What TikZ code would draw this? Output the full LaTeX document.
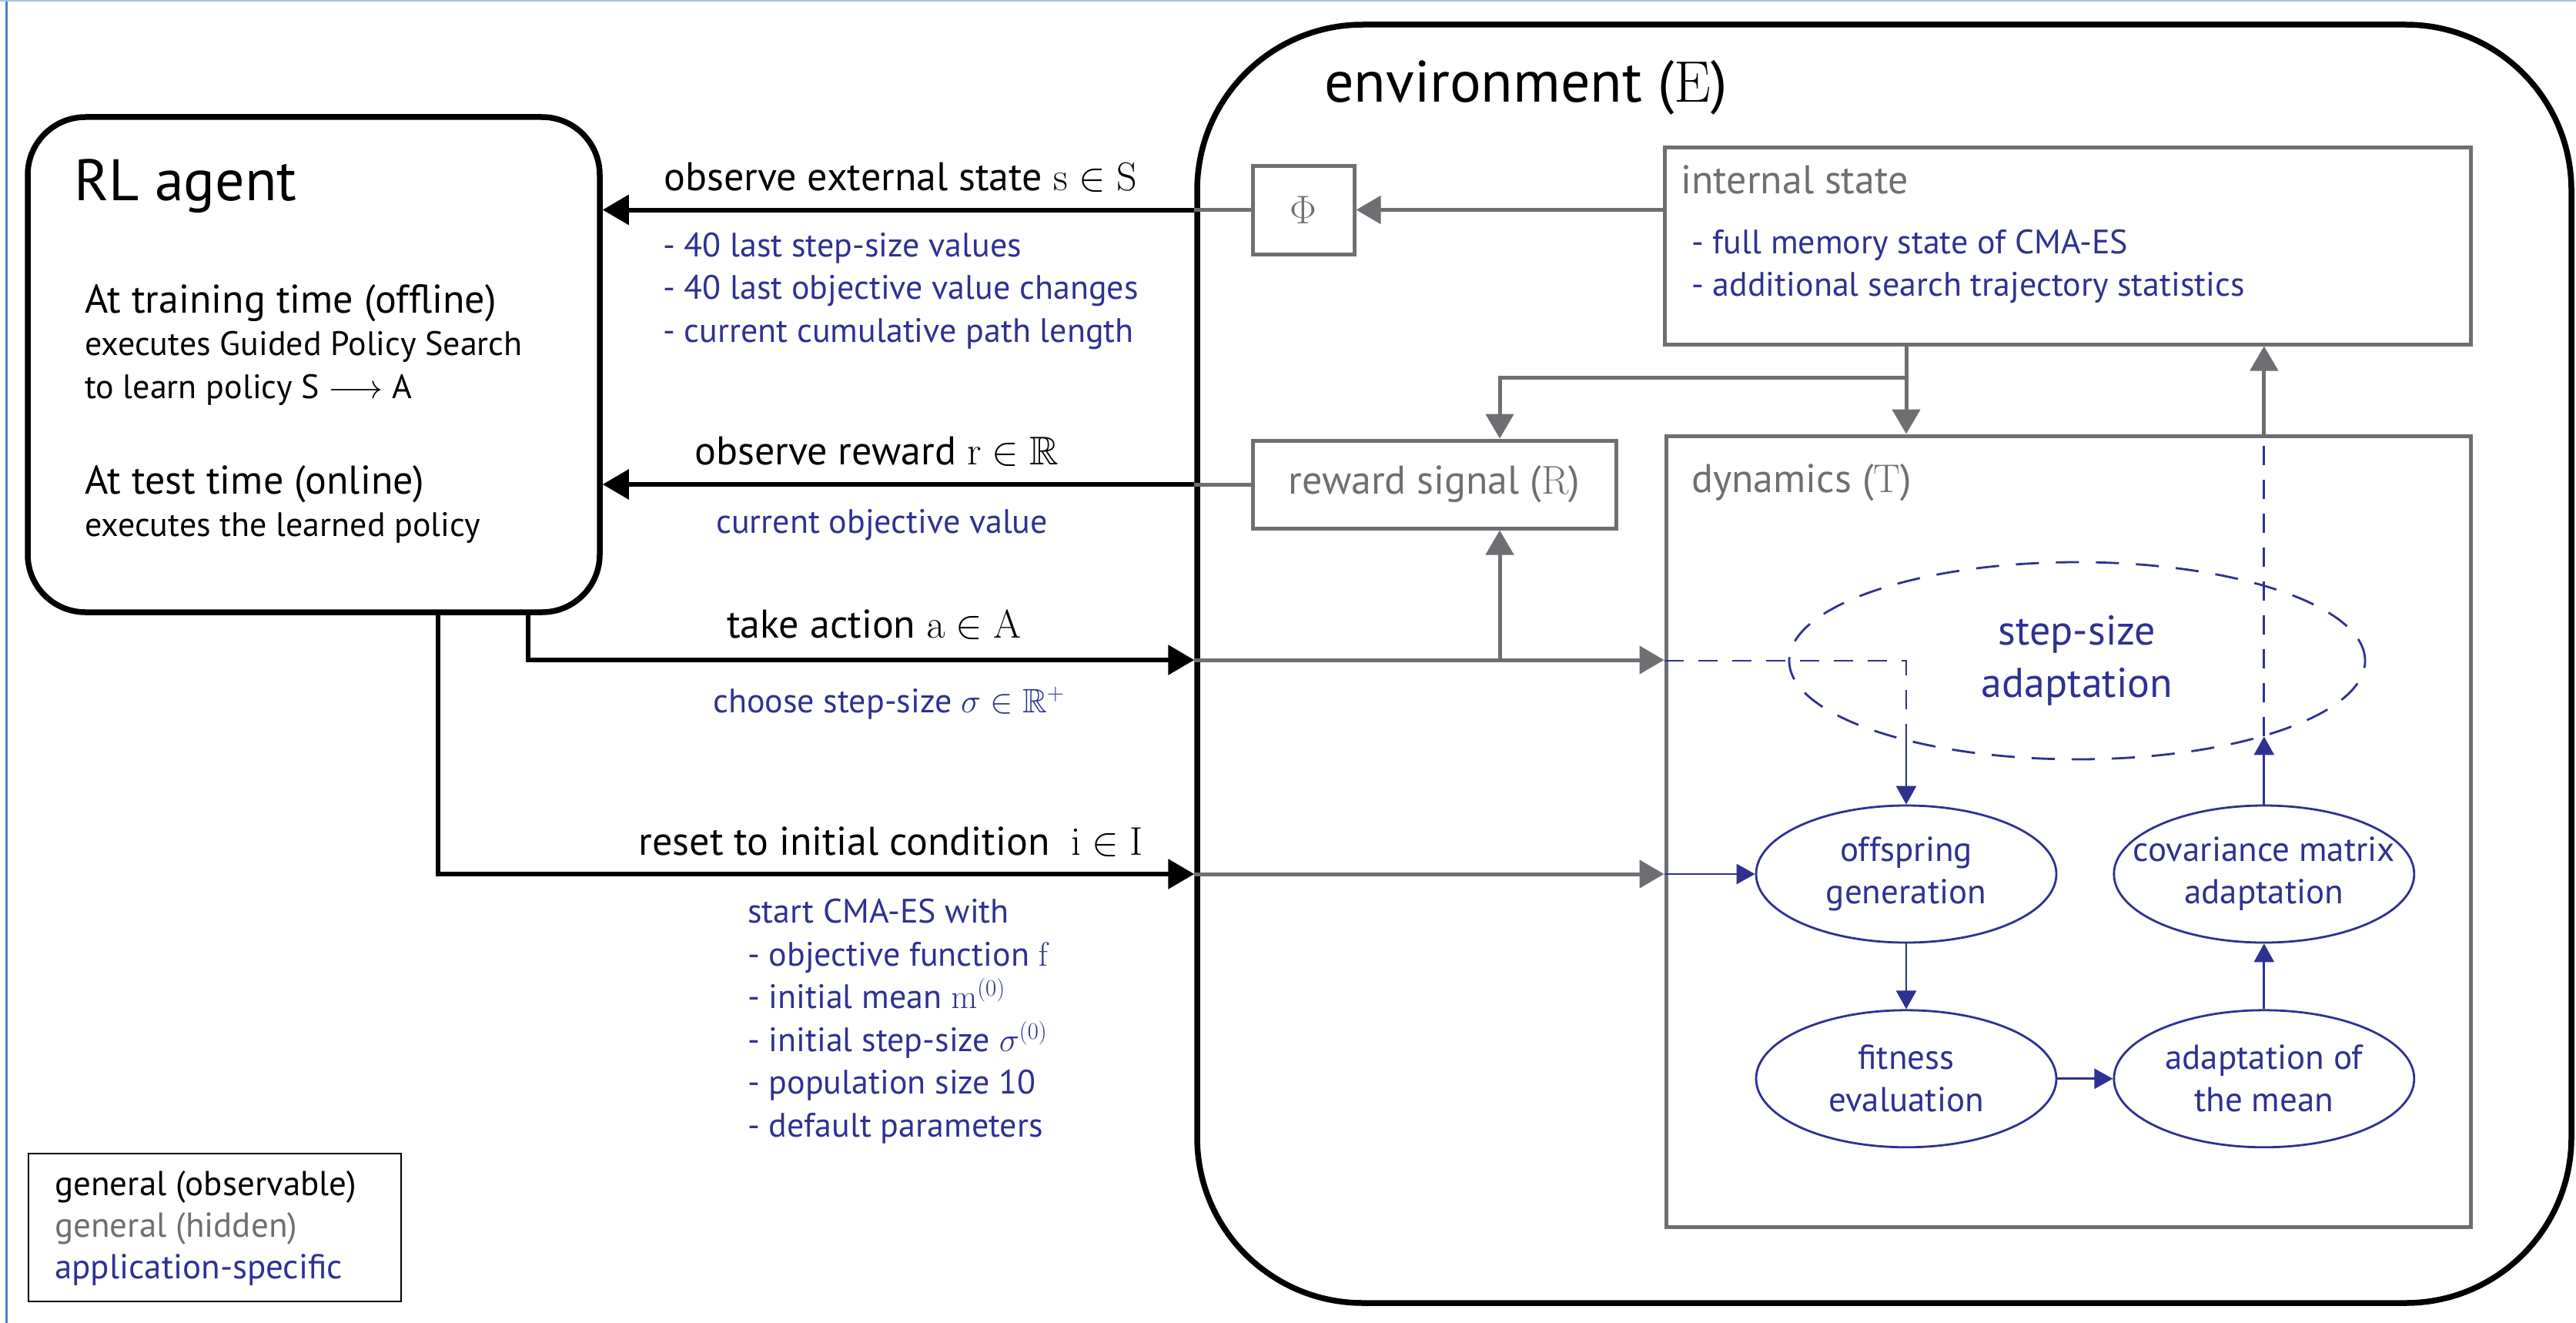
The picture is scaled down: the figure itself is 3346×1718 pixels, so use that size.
\documentclass[tikz,border=0pt]{standalone}
\usepackage{fix-cm}
\usepackage{amsmath,amssymb}
\usepackage[no-math]{fontspec}
\setmainfont{PT Sans}
\usetikzlibrary{arrows.meta,positioning,shapes.geometric}

\definecolor{hidden}{RGB}{110,111,114}
\definecolor{appblue}{RGB}{46,49,146}
\definecolor{framecol}{RGB}{70,130,200}

\begin{document}
\begin{tikzpicture}[
  x=1pt, y=-1pt,
  node distance=85pt,
  big/.style={font=\fontsize{76}{90}\selectfont},
  lab/.style={font=\fontsize{52}{62}\selectfont},
  note/.style={font=\fontsize{44}{55.5}\selectfont, align=left},
  txt/.style={inner sep=0pt, anchor=base west},
  obsbox/.style={draw, rounded corners=75pt, line width=7.5pt},
  hidbox/.style={draw=hidden, line width=5pt, text=hidden},
  proc/.style={ellipse, draw=appblue, line width=2.8pt, text=appblue, align=center,
    inner xsep=-70pt, inner ysep=0pt, minimum width=390pt, minimum height=178pt,
    font=\fontsize{45}{55}\selectfont},
  blackarrow/.style={-{Triangle[length=34pt,width=38pt]}, line width=6pt},
  greyline/.style={draw=hidden, line width=5pt},
  greyarrow/.style={greyline, -{Triangle[length=32pt,width=36pt]}},
  bluearrow/.style={-{Triangle[length=24pt,width=26pt]}, line width=2.8pt, draw=appblue},
  bluedash/.style={line width=2.8pt, draw=appblue, dash pattern=on 25pt off 19pt}
]
\useasboundingbox (0,0) rectangle (3346,1718);
\draw[framecol, line width=3pt] (8,0) -- (8,1718);
\draw[framecol!50, line width=2pt] (0,1) -- (3346,1);

% agent
\node[obsbox, minimum width=743pt, minimum height=643pt] (agent) at (407.5,473.5) {};
\node[txt, big] (agenttitle) at (96,260) {RL agent};
\node[txt, lab] (train) at (110,406) {At training time (offline)};
\node[txt, note] (traininfo) at (110,517) {executes Guided Policy Search\\to learn policy S $\longrightarrow$ A};
\node[txt, lab] (test) at (110,641) {At test time (online)};
\node[txt, note] (testinfo) at (110,696) {executes the learned policy};

% environment
\node[obsbox, rounded corners=215pt, minimum width=1785pt, minimum height=1660pt] (env) at (2447.5,862) {};
\node[txt, big] (envtitle) at (1720,133) {environment ($\mathrm{E}$)};
\node[hidbox, lab, minimum width=132pt, minimum height=115pt] (phi) at (1693,272.5) {$\Phi$};
\node[hidbox, minimum width=1047pt, minimum height=256pt] (internal) at (2685.5,319) {};
\node[txt, lab, text=hidden] (intlabel) at (2183,251) {internal state};
\node[txt, note, text=appblue] (intinfo) at (2197,384.5) {- full memory state of CMA-ES\\- additional search trajectory statistics};
\node[hidbox, lab, minimum width=472pt, minimum height=114pt] (reward) at (1863,629) {reward signal ($\mathrm{R}$)};
\node[hidbox, minimum width=1045pt, minimum height=1027pt] (dyn) at (2686.5,1079.5) {};
\node[txt, lab, text=hidden] (dynlabel) at (2197,639) {dynamics ($\mathrm{T}$)};
\node[ellipse, draw=appblue, line width=2.8pt, dash pattern=on 30pt off 22pt, text=appblue,
  font=\fontsize{54}{68}\selectfont, align=center, minimum width=748pt, minimum height=256pt]
  (stepsize) at (2698,858) {step-size\\adaptation};
\node[proc] (offspring) at (2476,1135) {offspring\\generation};
\node[proc, below=of offspring] (fitness) {fitness\\evaluation};
\node[proc, right=72pt of fitness] (mean) {adaptation of\\the mean};
\node[proc, above=of mean] (cov) {covariance matrix\\adaptation};

% legend
\node[draw, line width=2.5pt, minimum width=484pt, minimum height=192pt] (legend) at (279,1594) {};
\node[txt, note, font=\fontsize{45}{54}\selectfont] (legtext) at (71,1660) {general (observable)\\\textcolor{hidden}{general (hidden)}\\\textcolor{appblue}{application-specific}};

% arrow labels
\node[txt, lab] (obslabel) at (862,247) {observe external state $\mathrm{s}\in\mathrm{S}$};
\node[txt, note, text=appblue] (obsinfo) at (861,444) {- 40 last step-size values\\- 40 last objective value changes\\- current cumulative path length};
\node[txt, lab] (rewlabel) at (902,603) {observe reward $\mathrm{r}\in\mathbb{R}$};
\node[txt, note, text=appblue] (rewinfo) at (930,692) {current objective value};
\node[txt, lab] (actlabel) at (944,828) {take action $\mathrm{a}\in\mathrm{A}$};
\node[txt, note, text=appblue] (actinfo) at (926,925) {choose step-size $\sigma\in\mathbb{R}^+$};
\node[txt, lab, anchor=base east] (resetlabel) at (1485,1110) {reset to initial condition\ \ $\mathrm{i}\in\mathrm{I}$};
\node[txt, note, text=appblue] (resetinfo) at (971,1476) {start CMA-ES with\\- objective function $\mathrm{f}$\\- initial mean $\mathrm{m}^{(0)}$\\- initial step-size $\sigma^{(0)}$\\- population size 10\\- default parameters};

% observation and reward
\draw[greyarrow] (internal.west |- phi) -- (phi.east);
\draw[greyline] (phi.west) -- (env.west |- phi);
\draw[blackarrow] (env.west |- phi) -- (agent.east |- phi);
\draw[greyline] (reward.west) -- (env.west |- reward);
\draw[blackarrow] (env.west |- reward) -- (agent.east |- reward);

% action and reset
\coordinate (actbend) at (686,857);
\coordinate (rewtap) at (1948,857);
\coordinate (resetbend) at (569,1135);
\draw[blackarrow] (agent.south -| actbend) -- (actbend) -- (env.west |- actbend);
\draw[greyarrow] (env.west |- actbend) -- (dyn.west |- actbend);
\draw[greyarrow] (rewtap) -- (reward.south -| rewtap);
\draw[blackarrow] (agent.south -| resetbend) -- (resetbend) -- (env.west |- resetbend);
\draw[greyarrow] (env.west |- resetbend) -- (dyn.west |- resetbend);
\draw[bluearrow] (dyn.west |- offspring) -- (offspring.west);

% internal state <-> dynamics
\coordinate (split) at (2476,490);
\coordinate (covtap) at (cov.north |- dyn.north);
\draw[greyarrow] (internal.south -| split) -- (dyn.north -| split);
\draw[greyarrow] (split) -- (split -| rewtap) -- (reward.north -| rewtap);
\draw[greyarrow] (covtap) -- (internal.south -| covtap);

% CMA-ES loop
\draw[bluedash] (dyn.west |- stepsize) -- (stepsize -| offspring) -- (offspring.north |- stepsize.205);
\draw[bluearrow] (offspring.north |- stepsize.205) -- (offspring.north);
\draw[bluearrow] (offspring) -- (fitness);
\draw[bluearrow] (fitness) -- (mean);
\draw[bluearrow] (mean) -- (cov);
\draw[bluearrow] (cov.north) -- (cov.north |- stepsize.338);
\draw[bluedash] (cov.north |- stepsize.338) -- (covtap);
\end{tikzpicture}
\end{document}
